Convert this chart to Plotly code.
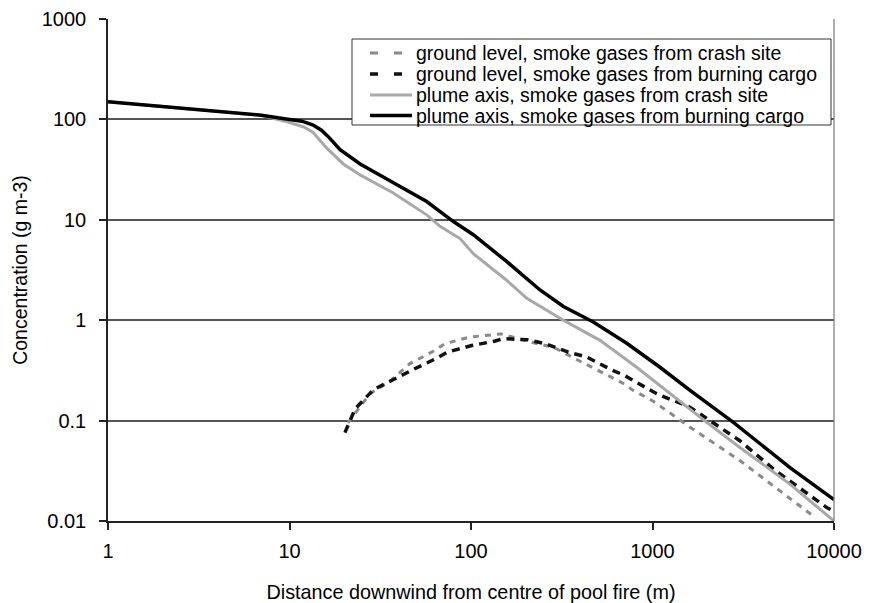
import plotly.graph_objects as go

# ---- data ----
x_gl_crash = [21, 27.7, 35.8, 46.1, 62, 72, 98.7, 133, 147, 230, 284, 374, 482, 571, 676, 784, 1010, 1610, 3030, 4630, 7690]
y_gl_crash = [0.095, 0.185, 0.247, 0.37, 0.49, 0.585, 0.68, 0.72, 0.73, 0.585, 0.54, 0.414, 0.33, 0.28, 0.24, 0.2, 0.156, 0.086, 0.04, 0.0224, 0.0112]

x_gl_cargo = [20.2, 23, 29, 35, 47.7, 64, 74, 101, 136, 150, 203, 256, 344, 434, 596, 705, 889, 1055, 1610, 3030, 4630, 9120, 10000]
y_gl_cargo = [0.076, 0.131, 0.203, 0.242, 0.321, 0.414, 0.48, 0.56, 0.62, 0.655, 0.64, 0.585, 0.48, 0.43, 0.32, 0.28, 0.22, 0.185, 0.136, 0.063, 0.033, 0.0136, 0.0125]

x_pa_crash = [1, 2, 4, 7, 9.8, 12, 13.5, 16, 19.8, 24.5, 37.3, 57, 67.5, 87, 103, 157, 203, 323, 514, 818, 1990, 3030, 5720, 10000]
y_pa_crash = [150, 135, 121, 110, 94, 84, 74, 52, 36, 28, 18.5, 11.2, 8.6, 6.5, 4.6, 2.5, 1.65, 1.0, 0.63, 0.34, 0.096, 0.054, 0.0233, 0.01]

x_pa_cargo = [1, 2, 4, 7, 10, 11.7, 13.5, 15, 16.4, 19, 24.5, 37, 57, 80, 103, 157, 240, 323, 472, 721, 1100, 1610, 2790, 5720, 10000]
y_pa_cargo = [150, 135, 121, 110, 100, 96, 88, 78, 67, 50, 36, 23.5, 15.2, 9.6, 7.1, 3.85, 2.0, 1.37, 0.96, 0.59, 0.34, 0.20, 0.096, 0.034, 0.0163]

names = [
    "ground level, smoke gases from crash site",
    "ground level, smoke gases from burning cargo",
    "plume axis, smoke gases from crash site",
    "plume axis, smoke gases from burning cargo",
]

x_ticks = [1, 10, 100, 1000, 10000]
x_tick_labels = ["1", "10", "100", "1000", "10000"]
y_ticks = [0.01, 0.1, 1, 10, 100, 1000]
y_tick_labels = ["0.01", "0.1", "1", "10", "100", "1000"]

FONT = "Liberation Sans, Arial, Helvetica, sans-serif"

styles = [
    dict(color="#8a8a8a", width=3, dash="6px,6px"),
    dict(color="#111111", width=3.5, dash="8px,6px"),
    dict(color="#a8a8a8", width=3),
    dict(color="#000000", width=3.5),
]
legend_sample_dash = ["8px,16px", "8px,16px", None, None]

# plot-area geometry (pixels)
W, H = 871, 603
L, R, T, B = 108, 37, 19, 82
PW, PH = W - L - R, H - T - B


def px(xp):
    return (xp - L) / PW


def py(yp):
    return (H - B - yp) / PH


fig = go.Figure()
for xs, ys, nm, st in zip([x_gl_crash, x_gl_cargo, x_pa_crash, x_pa_cargo],
                          [y_gl_crash, y_gl_cargo, y_pa_crash, y_pa_cargo], names, styles):
    fig.add_trace(go.Scatter(x=xs, y=ys, mode="lines", name=nm, line=st, showlegend=False))

fig.update_layout(
    width=W, height=H,
    margin=dict(l=L, r=R, t=T, b=B),
    paper_bgcolor="white", plot_bgcolor="white",
    font=dict(family=FONT, size=19.5, color="black"),
    showlegend=False,
)
fig.update_xaxes(type="log", range=[0, 4], tickvals=x_ticks, ticktext=x_tick_labels,
                 showgrid=False, showline=True, linecolor="#222222", linewidth=1.5,
                 ticks="outside", ticklen=7, tickcolor="#222222", tickwidth=1.5,
                 tickfont=dict(size=20), ticklabelstandoff=4, zeroline=False, automargin=False,
                 title=dict(text="Distance downwind from centre of pool fire (m)",
                            font=dict(size=19.8), standoff=25))
fig.update_yaxes(type="log", range=[-2, 3], tickvals=y_ticks, ticktext=y_tick_labels,
                 showgrid=True, gridcolor="#555555", gridwidth=1.5,
                 showline=True, linecolor="#222222", linewidth=1.5,
                 ticks="outside", ticklen=7, tickcolor="#222222", tickwidth=1.5,
                 tickfont=dict(size=20), ticklabelstandoff=9, zeroline=False, automargin=False,
                 title=dict(text="Concentration (g m-3)", font=dict(size=19.5), standoff=9))
# right border of plot frame
fig.add_shape(type="line", xref="paper", yref="paper", x0=1, x1=1, y0=0, y1=1,
              line=dict(color="#777777", width=1.2))

# legend box (drawn by hand to match the reference's compact row spacing)
fig.add_shape(type="rect", xref="paper", yref="paper",
              x0=px(352), x1=px(831), y0=py(125), y1=py(39),
              fillcolor="white", line=dict(color="#333333", width=1))
row_y = [53, 74, 95, 115.5]
for nm, st, sd, ry in zip(names, styles, legend_sample_dash, row_y):
    ln = dict(color=st["color"], width=st["width"])
    if sd:
        ln["dash"] = sd
    fig.add_shape(type="line", xref="paper", yref="paper",
                  x0=px(370), x1=px(412), y0=py(ry), y1=py(ry), line=ln)
    fig.add_annotation(text=nm, xref="paper", yref="paper", x=px(414), y=py(ry),
                       xanchor="left", yanchor="middle", showarrow=False,
                       font=dict(family=FONT, size=19.5, color="black"))

fig.write_html("out.html", post_script="document.body.style.margin='0';",
               config={"displayModeBar": False})
